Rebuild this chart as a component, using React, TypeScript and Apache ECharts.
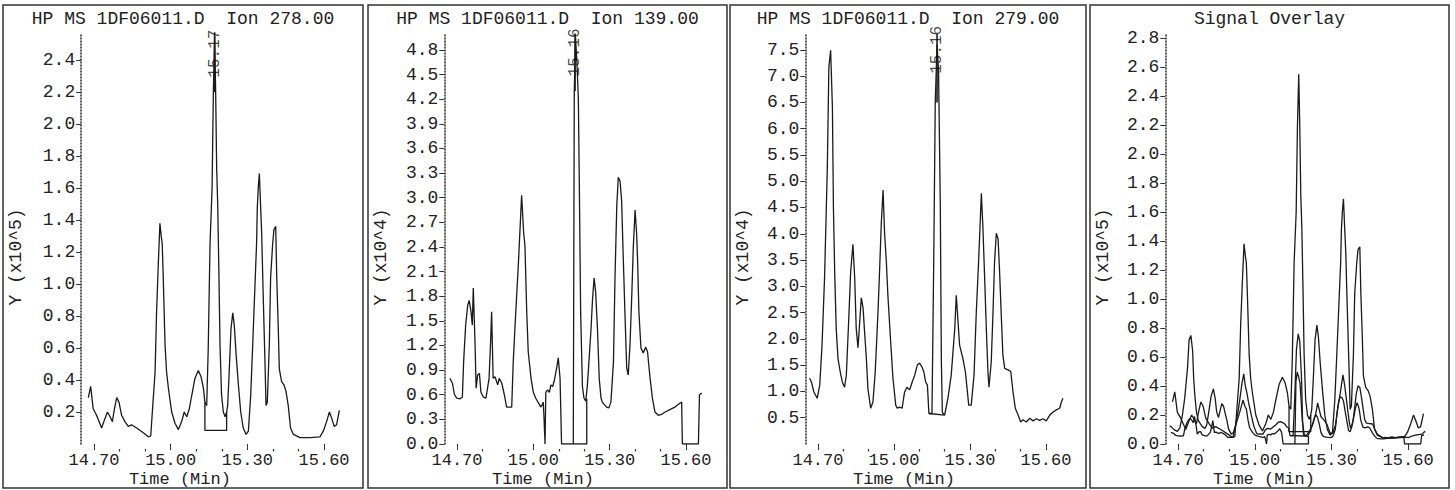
import React, { useEffect, useRef } from "react";
import * as echarts from "echarts";

// ---------- data ----------
// Ion 278.00, Y in x10^5
const ion278: [number, number][] = [
  [14.678, 0.29], [14.687, 0.36], [14.697, 0.22], [14.71, 0.18], [14.73, 0.1], [14.743, 0.16],
  [14.753, 0.2], [14.763, 0.17], [14.772, 0.14], [14.78, 0.22], [14.789, 0.29], [14.798, 0.26],
  [14.808, 0.18], [14.821, 0.14], [14.834, 0.11], [14.847, 0.12], [14.867, 0.1], [14.893, 0.07],
  [14.913, 0.045], [14.922, 0.05], [14.93, 0.24], [14.939, 0.45], [14.945, 0.83], [14.952, 1.14],
  [14.958, 1.38], [14.963, 1.3], [14.967, 1.25], [14.971, 1.04], [14.978, 0.62], [14.984, 0.45],
  [14.991, 0.35], [15.004, 0.2], [15.017, 0.13], [15.03, 0.09], [15.043, 0.14], [15.053, 0.2],
  [15.063, 0.17], [15.073, 0.22], [15.082, 0.3], [15.095, 0.41], [15.108, 0.46], [15.119, 0.42],
  [15.128, 0.35], [15.134, 0.26], [15.141, 0.24], [15.147, 0.6], [15.154, 1.25], [15.162, 1.6],
  [15.167, 2.2], [15.172, 2.55], [15.176, 2.2], [15.18, 1.72], [15.184, 1.5], [15.189, 1.04],
  [15.193, 0.62], [15.199, 0.31], [15.206, 0.2], [15.213, 0.17], [15.219, 0.2], [15.223, 0.24],
  [15.229, 0.45], [15.236, 0.72], [15.243, 0.82], [15.249, 0.74], [15.256, 0.56], [15.265, 0.37],
  [15.274, 0.2], [15.284, 0.1], [15.295, 0.06], [15.304, 0.08], [15.313, 0.3], [15.321, 0.62],
  [15.33, 1.0], [15.336, 1.25], [15.339, 1.48], [15.343, 1.61], [15.347, 1.69], [15.352, 1.48],
  [15.356, 1.32], [15.362, 0.93], [15.369, 0.51], [15.373, 0.24], [15.378, 0.26], [15.386, 0.62],
  [15.391, 1.04], [15.399, 1.25], [15.404, 1.34], [15.411, 1.36], [15.415, 1.04], [15.421, 0.72],
  [15.425, 0.47], [15.434, 0.39], [15.443, 0.37], [15.451, 0.33], [15.46, 0.24], [15.469, 0.1],
  [15.48, 0.06], [15.506, 0.04], [15.545, 0.04], [15.584, 0.045], [15.597, 0.08], [15.61, 0.14],
  [15.621, 0.2], [15.63, 0.16], [15.64, 0.11], [15.649, 0.12], [15.66, 0.21],
];
const box278: [number, number][] = [[15.134, 0.26], [15.134, 0.085], [15.219, 0.085], [15.219, 0.2]];

// Ion 139.00, Y in x10^4
const ion139: [number, number][] = [
  [14.672, 0.8], [14.682, 0.74], [14.69, 0.6], [14.699, 0.56], [14.712, 0.55], [14.721, 0.57],
  [14.726, 1.0], [14.734, 1.45], [14.742, 1.69], [14.748, 1.75], [14.755, 1.61], [14.76, 1.45],
  [14.764, 1.9], [14.771, 1.21], [14.775, 0.68], [14.781, 0.84], [14.788, 0.86], [14.794, 0.63],
  [14.804, 0.57], [14.814, 0.56], [14.826, 0.8], [14.832, 1.24], [14.836, 1.61], [14.842, 0.8],
  [14.849, 0.82], [14.86, 0.72], [14.866, 0.8], [14.876, 0.74], [14.886, 0.6], [14.895, 0.45],
  [14.915, 0.45], [14.921, 1.0], [14.931, 1.61], [14.941, 2.18], [14.954, 3.03], [14.962, 2.57],
  [14.967, 2.42], [14.974, 1.61], [14.98, 1.12], [14.991, 0.8], [15.0, 0.63], [15.009, 0.56],
  [15.02, 0.5], [15.03, 0.45], [15.035, 0.48], [15.039, 0.51], [15.042, 0.32], [15.046, 0.0],
  [15.049, 0.63], [15.056, 0.66], [15.063, 0.63], [15.069, 0.72], [15.076, 0.7], [15.083, 0.78],
  [15.092, 0.93], [15.098, 1.05], [15.105, 0.8], [15.111, 0.0], [15.157, 0.0], [15.161, 4.3],
  [15.166, 4.95], [15.172, 4.6], [15.177, 4.2], [15.181, 3.1], [15.186, 1.6], [15.193, 0.7],
  [15.199, 0.56], [15.206, 0.52], [15.212, 0.7], [15.216, 0.88], [15.227, 1.41], [15.233, 1.78],
  [15.239, 2.02], [15.245, 1.85], [15.252, 1.41], [15.259, 0.8], [15.266, 0.56], [15.271, 0.51],
  [15.279, 0.48], [15.288, 0.45], [15.297, 0.44], [15.305, 0.51], [15.315, 1.0], [15.321, 2.02],
  [15.328, 2.9], [15.334, 3.25], [15.341, 3.2], [15.347, 2.97], [15.354, 2.22], [15.36, 1.61],
  [15.367, 0.93], [15.373, 0.84], [15.38, 1.21], [15.387, 1.81], [15.393, 2.4], [15.4, 2.85],
  [15.406, 2.57], [15.41, 2.22], [15.415, 1.61], [15.423, 1.17], [15.432, 1.11], [15.442, 1.18],
  [15.449, 1.12], [15.459, 0.8], [15.468, 0.56], [15.478, 0.39], [15.491, 0.35], [15.504, 0.36],
  [15.518, 0.39], [15.531, 0.41], [15.544, 0.43], [15.557, 0.45], [15.577, 0.5], [15.583, 0.51],
  [15.586, 0.0], [15.649, 0.0], [15.653, 0.6], [15.662, 0.62],
];
const box139: [number, number][] = [[15.157, 0.0], [15.21, 0.0], [15.21, 0.55]];

// Ion 279.00, Y in x10^4
const ion279: [number, number][] = [
  [14.667, 1.25], [14.674, 1.18], [14.684, 0.99], [14.697, 0.87], [14.707, 1.12], [14.716, 1.88],
  [14.726, 3.16], [14.733, 4.5], [14.737, 5.27], [14.743, 7.17], [14.75, 7.49], [14.757, 6.41],
  [14.761, 4.5], [14.766, 3.27], [14.772, 2.2], [14.779, 1.63], [14.788, 1.37], [14.796, 1.18],
  [14.805, 1.08], [14.812, 1.31], [14.821, 2.32], [14.829, 3.27], [14.838, 3.8], [14.845, 3.16],
  [14.851, 2.2], [14.858, 1.83], [14.864, 2.26], [14.871, 2.78], [14.878, 2.59], [14.884, 2.13],
  [14.891, 1.63], [14.897, 1.06], [14.908, 0.68], [14.917, 0.8], [14.926, 1.37], [14.937, 2.51],
  [14.943, 3.27], [14.95, 4.2], [14.957, 4.83], [14.963, 4.01], [14.97, 3.46], [14.976, 2.83],
  [14.986, 2.02], [14.996, 1.25], [15.007, 0.74], [15.013, 0.68], [15.022, 0.7], [15.032, 0.68],
  [15.042, 0.99], [15.051, 1.08], [15.062, 1.03], [15.072, 1.18], [15.082, 1.31], [15.092, 1.5],
  [15.101, 1.54], [15.111, 1.46], [15.118, 1.37], [15.125, 1.18], [15.132, 1.12], [15.138, 0.58],
  [15.15, 0.58], [15.157, 3.5], [15.163, 6.5], [15.17, 7.6], [15.176, 7.1], [15.183, 4.5],
  [15.187, 1.6], [15.191, 0.6], [15.2, 0.55], [15.213, 0.87], [15.226, 1.31], [15.24, 2.2],
  [15.246, 2.83], [15.253, 2.32], [15.259, 1.88], [15.272, 1.63], [15.282, 1.37], [15.29, 0.99],
  [15.295, 0.74], [15.305, 0.74], [15.316, 1.31], [15.325, 2.51], [15.334, 3.46], [15.345, 4.77],
  [15.351, 4.13], [15.358, 3.16], [15.365, 2.13], [15.371, 1.37], [15.375, 1.08], [15.384, 1.56],
  [15.391, 2.51], [15.397, 3.46], [15.404, 4.01], [15.411, 3.9], [15.417, 3.27], [15.424, 2.4],
  [15.43, 1.69], [15.437, 1.44], [15.45, 1.41], [15.461, 1.38], [15.47, 0.99], [15.479, 0.68],
  [15.49, 0.55], [15.5, 0.42], [15.509, 0.46], [15.522, 0.42], [15.536, 0.49], [15.549, 0.44],
  [15.562, 0.48], [15.575, 0.45], [15.588, 0.48], [15.601, 0.44], [15.615, 0.55], [15.628, 0.61],
  [15.641, 0.65], [15.654, 0.68], [15.661, 0.8], [15.667, 0.87],
];
const box279: [number, number][] = [[15.138, 0.58], [15.2, 0.55]];

// x10^4 -> x10^5 for the overlay panel
const toE5 = 0.1;

// peak annotations
const peakTimes = [15.172, 15.164, 15.17];
const peakTexts = ["15.17", "15.16", "15.16"];
const peakLabelY = [2.44, 4.77, 7.5];
const peakMarkerTop = [2.6, 5.0, 7.8];
const peakMarkerBottom = [2.2, 4.3, 6.5];

// axes
const timeMajor = [14.7, 15.0, 15.3, 15.6];
const timeMinor = [14.8, 14.9, 15.1, 15.2, 15.4, 15.5];
const ticks278 = [0.2, 0.4, 0.6, 0.8, 1.0, 1.2, 1.4, 1.6, 1.8, 2.0, 2.2, 2.4];
const ticks139 = [0.0, 0.3, 0.6, 0.9, 1.2, 1.5, 1.8, 2.1, 2.4, 2.7, 3.0, 3.3, 3.6, 3.9, 4.2, 4.5, 4.8];
const ticks279 = [0.5, 1.0, 1.5, 2.0, 2.5, 3.0, 3.5, 4.0, 4.5, 5.0, 5.5, 6.0, 6.5, 7.0, 7.5];
const ticksOverlay = [0.0, 0.2, 0.4, 0.6, 0.8, 1.0, 1.2, 1.4, 1.6, 1.8, 2.0, 2.2, 2.4, 2.6, 2.8];

const titles = [
  "HP MS 1DF06011.D  Ion 278.00",
  "HP MS 1DF06011.D  Ion 139.00",
  "HP MS 1DF06011.D  Ion 279.00",
  "Signal Overlay",
];
const yNames = ["Y (x10^5)", "Y (x10^4)", "Y (x10^4)", "Y (x10^5)"];
const xName = "Time (Min)";

// ---------- layout ----------
const FONT = '"Liberation Mono", "DejaVu Sans Mono", monospace';
const INK = "#1a1a1a";
const TXT = "#222";
const panels = [
  { frame: [3, 5, 360, 483], left: 81.2, width: 268.4, yMax: 2.569, ticks: ticks278 },
  { frame: [368, 5, 359, 483], left: 444.3, width: 267.1, yMax: 5.006, ticks: ticks139 },
  { frame: [730, 5, 356, 483], left: 805.3, width: 266.0, yMax: 7.82, ticks: ticks279 },
  { frame: [1090, 5, 359, 483], left: 1165.3, width: 268.4, yMax: 2.834, ticks: ticksOverlay },
];
const X_MIN = 14.65;
const X_MAX = 15.7;

function lineSeries(data: [number, number][], idx: number) {
  return {
    type: "line",
    xAxisIndex: idx,
    yAxisIndex: idx,
    data,
    showSymbol: false,
    symbol: "none",
    silent: true,
    lineStyle: { color: INK, width: 1.3 },
    z: 3,
  };
}

function centeredText(text: string, x: number, y: number, size: number, rotation = 0) {
  return {
    type: "text",
    x,
    y,
    rotation,
    silent: true,
    style: {
      text,
      fontFamily: FONT,
      fontSize: size,
      fill: TXT,
      align: "center",
      verticalAlign: "middle",
      textAlign: "center",
      textVerticalAlign: "middle",
    },
  };
}

function buildOption() {
  const grid: any[] = [];
  const xAxis: any[] = [];
  const yAxis: any[] = [];
  const graphic: any[] = [];

  panels.forEach((p, i) => {
    grid.push({ left: p.left, top: 33, width: p.width, height: 411, containLabel: false });
    xAxis.push({
      type: "value",
      gridIndex: i,
      min: X_MIN,
      max: X_MAX,
      position: "bottom",
      offset: 3,
      axisLine: { show: false },
      splitLine: { show: false },
      axisTick: { show: true, customValues: timeMajor, length: 6, lineStyle: { color: "#333", width: 1 } },
      axisLabel: {
        customValues: timeMajor,
        formatter: (v: number) => v.toFixed(2),
        margin: 5,
        fontFamily: FONT,
        fontSize: 17,
        color: TXT,
      },
    });
    yAxis.push({
      type: "value",
      gridIndex: i,
      min: 0,
      max: p.yMax,
      axisLine: { show: true, lineStyle: { color: "#333", width: 1.6, type: [1, 2] } },
      splitLine: { show: false },
      axisTick: { show: true, customValues: p.ticks, length: 5, lineStyle: { color: "#333", width: 1 } },
      axisLabel: {
        customValues: p.ticks,
        formatter: (v: number) => v.toFixed(1),
        margin: 6,
        fontFamily: FONT,
        fontSize: 18,
        color: TXT,
      },
    });
    const [fx, fy, fw, fh] = p.frame;
    graphic.push({
      type: "rect",
      shape: { x: fx, y: fy, width: fw, height: fh },
      style: { fill: "none", stroke: "#333", lineWidth: 1.5 },
      silent: true,
    });
    graphic.push(centeredText(titles[i], fx + fw / 2, 18.5, 18));
    graphic.push(centeredText(xName, p.left + 13.7 + 85, 479, 17));
    graphic.push(centeredText(yNames[i], fx + 13, 257, 18, Math.PI / 2));
  });

  // minor time ticks (one extra x axis per grid)
  panels.forEach((_, i) => {
    xAxis.push({
      type: "value",
      gridIndex: i,
      min: X_MIN,
      max: X_MAX,
      position: "bottom",
      offset: 5,
      axisLine: { show: false },
      splitLine: { show: false },
      axisTick: { show: true, customValues: timeMinor, length: 2.5, lineStyle: { color: "#333", width: 1.2 } },
      axisLabel: { show: false },
    });
  });

  const series: any[] = [];
  const singles: [number, number][][] = [ion278, ion139, ion279];
  const boxes: [number, number][][] = [box278, box139, box279];
  singles.forEach((d, i) => {
    series.push(lineSeries(d, i));
    series.push(lineSeries(boxes[i], i));
    series.push({
      ...lineSeries(
        [
          [peakTimes[i], peakMarkerBottom[i]],
          [peakTimes[i], peakMarkerTop[i]],
        ],
        i
      ),
      lineStyle: { color: INK, width: 1.6 },
    });
    series.push({
      type: "scatter",
      xAxisIndex: i,
      yAxisIndex: i,
      symbolSize: 1,
      silent: true,
      itemStyle: { color: "transparent" },
      data: [[peakTimes[i], peakLabelY[i]]],
      label: {
        show: true,
        position: "inside",
        rotate: 90,
        formatter: peakTexts[i],
        fontFamily: FONT,
        fontSize: 16,
        color: "#111",
      },
      z: 4,
    });
  });

  // overlay panel
  const scale = (d: [number, number][], k: number) => d.map(([t, v]) => [t, v * k] as [number, number]);
  series.push(lineSeries(ion278, 3));
  series.push(lineSeries(box278, 3));
  series.push(lineSeries(scale(ion139, toE5), 3));
  series.push(lineSeries(scale(box139, toE5), 3));
  series.push(lineSeries(scale(ion279, toE5), 3));
  series.push(lineSeries(scale(box279, toE5), 3));

  return {
    animation: false,
    backgroundColor: "#ffffff",
    grid,
    xAxis,
    yAxis,
    series,
    graphic: { elements: graphic },
  };
}

export default function App() {
  const ref = useRef<HTMLDivElement>(null);
  useEffect(() => {
    if (!ref.current) return;
    const chart = echarts.init(ref.current, null, { renderer: "svg" });
    chart.setOption(buildOption() as any);
    return () => chart.dispose();
  }, []);
  return (
    <div
      ref={ref}
      style={{ position: "fixed", left: 0, top: 0, width: 1455, height: 490, background: "#fff" }}
    />
  );
}
